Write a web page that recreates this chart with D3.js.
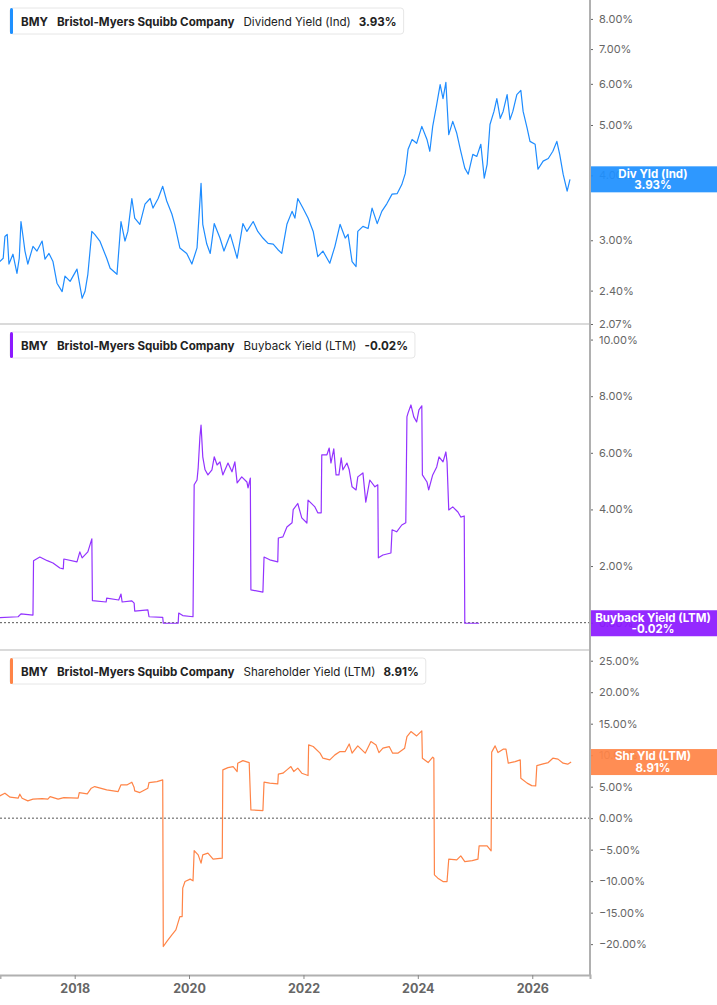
<!DOCTYPE html>
<html>
<head>
<meta charset="utf-8">
<script src="https://cdn.jsdelivr.net/npm/d3@7"></script>
<style>
  body { margin: 0; background: #fff; }
  svg { display: block; font-family: Inter, "Noto Sans", sans-serif; }
</style>
</head>
<body>
<div id="chart"></div>
<script>
// ---- data (decimal years, percent) ----
const divYears = [
  2016.69,2016.75,2016.78,2016.82,2016.85,2016.92,2016.99,2017.03,2017.06,2017.10,
  2017.13,2017.18,2017.27,2017.34,2017.43,2017.48,2017.55,2017.62,2017.69,2017.78,
  2017.83,2017.92,2018.04,2018.13,2018.18,2018.23,2018.30,2018.35,2018.44,2018.56,
  2018.62,2018.74,2018.81,2018.88,2018.93,2019.00,2019.05,2019.14,2019.23,2019.32,
  2019.37,2019.46,2019.54,2019.61,2019.70,2019.75,2019.84,2019.96,2020.05,2020.14,
  2020.21,2020.24,2020.31,2020.37,2020.44,2020.54,2020.61,2020.72,2020.84,2020.94,
  2021.01,2021.12,2021.20,2021.29,2021.38,2021.47,2021.55,2021.62,2021.71,2021.80,
  2021.85,2021.90,2021.99,2022.08,2022.17,2022.25,2022.34,2022.46,2022.55,2022.64,
  2022.73,2022.78,2022.85,2022.92,2022.95,2023.04,2023.13,2023.20,2023.29,2023.37,
  2023.46,2023.55,2023.64,2023.72,2023.78,2023.83,2023.90,2023.98,2024.07,2024.16,
  2024.21,2024.26,2024.33,2024.39,2024.44,2024.49,2024.54,2024.61,2024.68,2024.75,
  2024.82,2024.88,2024.96,2025.03,2025.10,2025.16,2025.21,2025.26,2025.33,2025.38,
  2025.44,2025.49,2025.56,2025.61,2025.66,2025.73,2025.80,2025.84,2025.91,2025.96,
  2026.05,2026.10,2026.19,2026.28,2026.36,2026.43,2026.48,2026.54,2026.61,2026.66
];
const divValues = [
  2.73,2.77,3.05,3.08,2.70,2.82,2.59,2.77,3.26,3.03,
  2.86,2.70,2.92,2.86,2.99,2.76,2.83,2.73,2.48,2.39,
  2.56,2.50,2.64,2.32,2.39,2.58,3.12,3.08,2.99,2.77,
  2.65,2.58,3.26,2.99,3.12,3.61,3.31,3.22,3.52,3.61,
  3.46,3.61,3.81,3.57,3.37,3.22,2.90,2.83,2.70,2.90,
  3.86,3.22,2.95,2.83,3.23,3.03,2.86,3.08,2.77,3.23,
  3.12,3.26,3.12,3.03,2.96,2.95,2.88,2.83,3.22,3.41,
  3.31,3.61,3.46,3.31,3.12,2.79,2.86,2.71,2.92,3.22,
  3.03,3.08,2.73,2.67,3.12,3.19,3.16,3.46,3.23,3.41,
  3.53,3.68,3.69,3.84,4.03,4.49,4.69,4.61,4.97,4.69,
  4.45,4.97,5.48,5.98,5.62,6.04,4.79,5.08,4.82,4.45,
  4.13,4.02,4.39,4.35,4.59,3.95,4.20,5.01,5.31,5.62,
  5.15,5.31,5.72,5.12,5.31,5.72,5.83,5.31,4.93,4.65,
  4.59,4.11,4.26,4.31,4.45,4.65,4.39,4.02,3.73,3.93
];

const bbYears = [
  2016.69,2017.01,2017.06,2017.27,2017.28,2017.39,2017.52,2017.62,2017.74,2017.80,
  2017.81,2018.04,2018.09,2018.13,2018.23,2018.30,2018.31,2018.55,2018.56,2018.77,
  2018.81,2018.83,2019.00,2019.04,2019.05,2019.28,2019.30,2019.54,2019.55,2019.81,
  2019.82,2019.89,2020.07,2020.09,2020.14,2020.16,2020.19,2020.21,2020.24,2020.28,
  2020.33,2020.40,2020.44,2020.49,2020.54,2020.59,2020.68,2020.75,2020.80,2020.84,
  2020.92,2021.01,2021.03,2021.07,2021.08,2021.29,2021.31,2021.41,2021.55,2021.56,
  2021.64,2021.71,2021.80,2021.82,2021.90,2021.97,2022.06,2022.08,2022.20,2022.25,
  2022.31,2022.32,2022.41,2022.45,2022.48,2022.53,2022.57,2022.62,2022.66,2022.69,
  2022.76,2022.80,2022.85,2022.92,2022.95,2023.04,2023.09,2023.16,2023.25,2023.30,
  2023.31,2023.39,2023.53,2023.55,2023.63,2023.72,2023.79,2023.81,2023.83,2023.88,
  2023.93,2023.98,2024.02,2024.07,2024.08,2024.16,2024.19,2024.26,2024.33,2024.37,
  2024.44,2024.49,2024.51,2024.54,2024.61,2024.70,2024.75,2024.81,2024.82,2025.07
];
const bbValues = [
  0.18,0.21,0.31,0.27,2.19,2.32,2.19,2.11,1.93,1.90,
  2.25,2.15,2.50,2.29,2.50,2.96,0.78,0.73,0.87,0.80,
  1.01,0.73,0.77,0.69,0.41,0.45,0.21,0.19,-0.02,-0.02,
  0.34,0.25,0.21,4.87,5.04,5.47,6.56,6.98,5.86,5.40,
  5.22,5.40,5.86,5.57,5.68,5.22,5.64,5.33,5.68,4.94,
  5.15,4.97,4.76,5.11,1.16,1.08,2.32,2.22,2.15,2.99,
  3.03,3.38,3.53,3.99,4.21,3.70,3.52,4.33,4.09,3.88,
  3.88,5.93,5.93,6.17,5.64,6.14,5.22,5.22,5.82,5.40,
  5.64,5.40,4.80,4.69,5.15,5.29,4.26,5.04,4.80,4.87,
  2.29,2.39,2.46,3.28,3.21,3.45,3.53,7.27,7.41,7.69,
  7.27,7.09,7.52,7.66,5.22,4.97,4.69,5.22,5.50,5.86,
  5.68,6.03,5.68,3.98,4.09,3.91,3.73,3.77,-0.02,-0.02
];

const shrYears = [
  2016.69,2016.78,2016.87,2017.01,2017.04,2017.08,2017.18,2017.27,2017.43,2017.53,
  2017.57,2017.71,2017.81,2018.06,2018.08,2018.22,2018.29,2018.35,2018.56,2018.76,
  2018.81,2018.92,2019.00,2019.04,2019.05,2019.14,2019.28,2019.30,2019.44,2019.54,
  2019.55,2019.61,2019.70,2019.77,2019.84,2019.88,2019.89,2019.93,2020.02,2020.07,
  2020.09,2020.16,2020.21,2020.24,2020.33,2020.42,2020.58,2020.59,2020.68,2020.77,
  2020.84,2020.85,2020.94,2021.05,2021.08,2021.29,2021.31,2021.41,2021.55,2021.56,
  2021.64,2021.71,2021.78,2021.83,2021.90,2021.97,2022.08,2022.09,2022.17,2022.29,
  2022.34,2022.46,2022.55,2022.64,2022.73,2022.80,2022.85,2022.95,2023.08,2023.18,
  2023.27,2023.32,2023.39,2023.50,2023.56,2023.65,2023.77,2023.81,2023.88,2023.98,
  2024.07,2024.08,2024.18,2024.26,2024.28,2024.29,2024.35,2024.44,2024.51,2024.54,
  2024.68,2024.75,2024.82,2024.95,2025.05,2025.07,2025.21,2025.28,2025.29,2025.35,
  2025.40,2025.49,2025.54,2025.58,2025.70,2025.79,2025.80,2025.91,2025.99,2026.06,
  2026.08,2026.19,2026.28,2026.36,2026.45,2026.54,2026.62,2026.68
];
const shrValues = [
  3.54,3.97,3.33,3.17,3.81,3.17,2.75,3.02,3.11,3.02,
  3.43,3.02,3.27,3.17,4.06,3.86,4.76,5.02,4.49,4.22,
  5.29,5.29,5.71,4.86,4.33,4.06,4.76,5.65,5.81,6.08,
  -20.38,-19.59,-18.52,-17.73,-15.62,-15.62,-11.11,-10.06,-9.68,-9.95,
  -5.14,-5.83,-7.14,-5.83,-5.56,-6.51,-6.35,7.67,8.03,8.19,
  7.40,8.73,9.14,8.83,1.32,1.21,5.71,5.56,5.44,6.98,
  7.14,7.67,8.19,7.40,7.94,7.14,6.77,11.63,11.37,10.32,
  9.52,9.25,10.05,10.57,10.57,11.79,10.32,11.48,10.32,12.16,
  11.63,10.41,11.11,11.37,10.32,10.32,11.11,12.95,13.75,13.06,
  13.86,9.52,8.83,9.68,9.52,-9.00,-9.52,-10.06,-10.06,-6.51,
  -6.62,-5.98,-6.89,-6.73,-6.51,-4.40,-4.40,-5.19,10.48,11.48,
  10.41,10.95,10.95,8.73,8.98,9.25,6.35,5.56,5.17,5.13,
  8.35,8.62,8.83,9.52,9.37,8.73,8.57,8.91
];

const divTicks = [2.07, 2.40, 3.00, 4.00, 5.00, 6.00, 7.00, 8.00];
const bbTicks = [0, 2, 4, 6, 8, 10];
const shrTicks = [-20, -15, -10, -5, 0, 5, 10, 15, 20, 25];
const yearTicks = [2018, 2020, 2022, 2024, 2026];

const width = 717, height = 1005;
const plotRight = 590;
const axisY = 975;

const toDate = y => {
  const yr = Math.floor(y);
  const start = Date.UTC(yr, 0, 1), end = Date.UTC(yr + 1, 0, 1);
  return new Date(start + (y - yr) * (end - start));
};

const svg = d3.select("#chart").append("svg")
  .attr("width", width)
  .attr("height", height);

const x = d3.scaleUtc()
  .domain([toDate(2016.694), toDate(2027.01)])
  .range([0, plotRight]);

const fmt = d => d3.format(".2f")(d) + "%";

const panels = [
  {
    key: "div", top: 0, bottom: 324,
    y: d3.scaleLog().domain([2.07, 8.7]),
    years: divYears, values: divValues, ticks: divTicks,
    line: "#1e8cff", box: "#1e90ff",
    metric: "Dividend Yield (Ind)", last: "3.93%",
    tag: "Div Yld (Ind)", zero: false
  },
  {
    key: "bb", top: 324, bottom: 650,
    y: d3.scaleLinear().domain([-0.965, 10.55]),
    years: bbYears, values: bbValues, ticks: bbTicks,
    line: "#9333ff", box: "#8c1aff",
    metric: "Buyback Yield (LTM)", last: "-0.02%",
    tag: "Buyback Yield (LTM)", zero: true
  },
  {
    key: "shr", top: 650, bottom: axisY,
    y: d3.scaleLinear().domain([-24.9, 26.7]),
    years: shrYears, values: shrValues, ticks: shrTicks,
    line: "#ff8447", box: "#ff8447",
    metric: "Shareholder Yield (LTM)", last: "8.91%",
    tag: "Shr Yld (LTM)", zero: true
  }
];

const defs = svg.append("defs");

panels.forEach(p => {
  p.y.range([p.bottom, p.top]);
  const data = d3.zip(p.years, p.values).map(([yr, v]) => ({ date: toDate(yr), value: v }));

  defs.append("clipPath").attr("id", "clip-" + p.key)
    .append("rect")
    .attr("x", 0).attr("y", p.top)
    .attr("width", plotRight).attr("height", p.bottom - p.top);

  // separator under the panel
  if (p.bottom !== axisY) {
    svg.append("line")
      .attr("x1", 0).attr("x2", plotRight)
      .attr("y1", p.bottom).attr("y2", p.bottom)
      .attr("stroke", "#b5b5b5").attr("stroke-width", 1);
  }

  if (p.zero) {
    svg.append("line")
      .attr("x1", 0).attr("x2", plotRight)
      .attr("y1", p.y(0)).attr("y2", p.y(0))
      .attr("stroke", "#555").attr("stroke-dasharray", "2,2");
  }

  svg.append("path")
    .datum(data)
    .attr("clip-path", `url(#clip-${p.key})`)
    .attr("fill", "none")
    .attr("stroke", p.line)
    .attr("stroke-width", 1.2)
    .attr("stroke-linejoin", "round")
    .attr("d", d3.line().x(d => x(d.date)).y(d => p.y(d.value)));

  // right axis (drawn first so the tag box sits over it)
  const ax = svg.append("g")
    .attr("transform", `translate(${plotRight},0)`)
    .call(d3.axisRight(p.y).tickValues(p.ticks).tickFormat(fmt).tickSize(3).tickPadding(6));
  ax.select(".domain").remove();
  ax.selectAll(".tick line").attr("stroke", "#666");
  ax.selectAll(".tick text")
    .attr("fill", "#666")
    .style("font-size", "11px")
    .style("font-family", "Inter, sans-serif");

  // end-of-series tag box
  const lastV = p.values[p.values.length - 1];
  const cy = p.y(lastV);
  svg.append("rect")
    .attr("x", plotRight).attr("y", cy - 13)
    .attr("width", width - plotRight).attr("height", 26)
    .attr("fill", p.box)
    .attr("fill-opacity", 0.93);

  const tag = svg.append("text")
    .attr("x", 653).attr("y", cy)
    .attr("text-anchor", "middle")
    .attr("fill", "#fff")
    .style("font-size", "11.5px")
    .style("font-weight", "700");
  tag.append("tspan").attr("x", 653).attr("dy", "-0.15em").text(p.tag);
  tag.append("tspan").attr("x", 653).attr("dy", "1.0em").text(p.last);

  // legend
  const lg = svg.append("g").attr("transform", `translate(10,${p.top + 8})`);
  const boxRect = lg.append("rect")
    .attr("x", 0).attr("y", 0).attr("height", 26).attr("rx", 3)
    .attr("fill", "#fff").attr("stroke", "#e6e6e6");
  lg.append("rect")
    .attr("x", 0).attr("y", 0).attr("width", 3).attr("height", 26).attr("rx", 1.5)
    .attr("fill", p.box);
  const t = lg.append("text")
    .attr("x", 11).attr("y", 17.5)
    .attr("fill", "#222")
    .style("font-size", "11.6px");
  t.append("tspan").style("font-weight", "700").text("BMY");
  t.append("tspan").attr("dx", 9).style("font-weight", "700").text("Bristol-Myers Squibb Company");
  t.append("tspan").attr("dx", 9).style("font-weight", "400").text(p.metric);
  t.append("tspan").attr("dx", 8).style("font-weight", "700").text(p.last);
  const w = t.node().getComputedTextLength();
  boxRect.attr("width", w + 11 + 26 + 7);
});

// frame: right axis line and bottom axis line
svg.append("line")
  .attr("x1", plotRight).attr("x2", plotRight)
  .attr("y1", 0).attr("y2", axisY)
  .attr("stroke", "#b0b0b0").attr("stroke-width", 2);

const xa = svg.append("g")
  .attr("transform", `translate(0,${axisY})`)
  .call(d3.axisBottom(x)
    .tickValues(yearTicks.map(yr => toDate(yr)))
    .tickFormat(d3.utcFormat("%Y"))
    .tickSize(4).tickPadding(5));
xa.select(".domain").attr("stroke", "#b0b0b0").attr("stroke-width", 2);
xa.selectAll(".tick line").attr("stroke", "#888");
xa.selectAll(".tick text")
  .attr("fill", "#666")
  .style("font-size", "12.5px")
  .style("font-weight", "700")
  .style("font-family", "Inter, sans-serif");
</script>
</body>
</html>
